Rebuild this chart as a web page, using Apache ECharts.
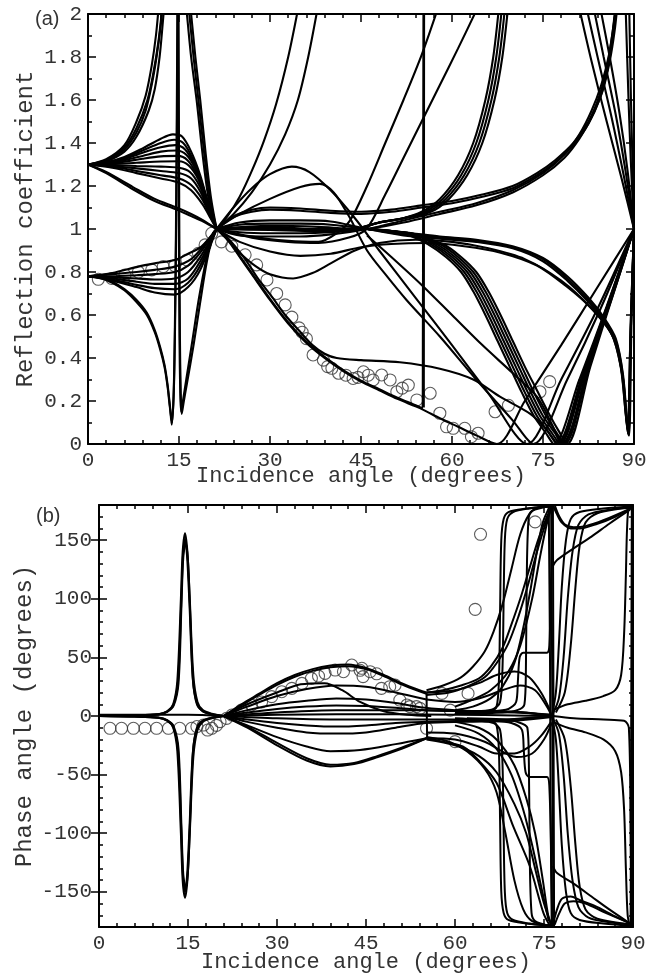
<!DOCTYPE html>
<html><head><meta charset="utf-8">
<script src="https://cdn.jsdelivr.net/npm/echarts@6/dist/echarts.min.js"></script>
<style>html,body{margin:0;padding:0;background:#fff}#c{width:659px;height:975px}</style>
</head><body><div id="c"></div><script>
// ---------- Panel (a): reflection coefficient ----------
const xTicks = [0, 15, 30, 45, 60, 75, 90];
const aYTicks = [0, 0.2, 0.4, 0.6, 0.8, 1, 1.2, 1.4, 1.6, 1.8, 2];
const bYTicks = [-150, -100, -50, 0, 50, 100, 150];

// lower family from 0.78
const aL1 = [[0,0.78],[4,0.795],[8.3,0.825],[11,0.84],[14.3,0.856],[16.5,0.885],[18.7,0.918],[21.2,1.0]];
const aL2 = [[0,0.78],[4,0.79],[8,0.8],[11,0.81],[14.3,0.825],[17,0.86],[19,0.92],[21.2,1.0]];
const aL3 = [[0,0.78],[4,0.78],[8,0.785],[11,0.79],[14.3,0.8],[16.5,0.83],[18.5,0.89],[21.2,1.0]];
const aL4 = [[0,0.78],[4,0.775],[8,0.77],[11,0.765],[14.3,0.77],[16.5,0.8],[18.5,0.87],[21.2,1.0]];
const aL5 = [[0,0.78],[4,0.77],[8,0.755],[11,0.745],[14.3,0.745],[16.5,0.77],[18.5,0.85],[21.2,1.0]];
const aL6 = [[0,0.78],[4,0.765],[8,0.74],[11,0.725],[14.3,0.72],[16.5,0.75],[18.5,0.83],[21.2,1.0]];
const aL7 = [[0,0.78],[4,0.76],[8,0.73],[11,0.705],[14.3,0.695],[16.5,0.73],[18.5,0.81],[21.2,1.0]];
// dips near 14-15
const aD1 = [[0,0.78],[2,0.775],[4,0.755],[6,0.72],[8,0.67],[9.7,0.61],[11,0.53],[11.9,0.45],[12.6,0.37],[13.1,0.28],[13.5,0.18],[13.8,0.09],[14.1,0.22],[14.3,0.5],[14.5,1.0],[14.65,1.6],[14.75,2.1]];
const aD2 = [[0,0.78],[2,0.772],[4,0.75],[6,0.715],[8,0.66],[9.7,0.6],[11,0.52],[11.9,0.44],[12.6,0.36],[13.1,0.27],[13.5,0.17],[13.85,0.1],[14.15,0.25],[14.35,0.55],[14.55,1.05],[14.7,1.6],[14.8,2.1]];
const aD3 = [[14.9,2.1],[14.98,1.5],[15.05,1.0],[15.15,0.5],[15.28,0.25],[15.45,0.14],[15.8,0.2],[16.3,0.28],[17.4,0.46],[18.5,0.66],[19.6,0.85],[20.7,0.98],[21.2,1.0]];
const aD4 = [[14.85,2.1],[14.92,1.5],[14.98,1.0],[15.08,0.5],[15.2,0.25],[15.35,0.15],[15.7,0.21],[16.2,0.3],[17.2,0.48],[18.3,0.68],[19.5,0.86],[20.6,0.98],[21.2,1.0]];
// upper family from 1.3: pole bundle
const aP1 = [[0,1.3],[3,1.32],[6,1.37],[8,1.45],[9.5,1.55],[10.5,1.67],[11.3,1.8],[12,1.95],[12.3,2.05]];
const aP2 = [[0,1.3],[3,1.32],[6,1.38],[8,1.47],[9.8,1.6],[10.8,1.73],[11.6,1.87],[12.2,2.02]];
const aP3 = [[0,1.3],[3,1.325],[6,1.39],[8,1.5],[9.5,1.62],[10.5,1.76],[11.2,1.9],[11.7,2.05]];
const aP4 = [[0,1.3],[3,1.315],[6,1.36],[8,1.43],[10,1.55],[11,1.65],[11.8,1.8],[12.3,1.95],[12.6,2.05]];
// steep descent from top to the crossing point
const aS1 = [[15.9,2.1],[16.3,2.0],[17,1.8],[17.9,1.6],[19,1.32],[20,1.12],[21.2,1.0]];
const aS2 = [[16.3,2.1],[16.7,2.0],[17.4,1.8],[18.2,1.6],[19.2,1.34],[20.1,1.14],[21.2,1.0]];
const aS3 = [[16.6,2.1],[17.0,2.0],[17.7,1.8],[18.5,1.6],[19.4,1.35],[20.3,1.14],[21.2,1.0]];
// bulges
const aG1 = [[0,1.3],[3,1.31],[6,1.335],[9,1.375],[12,1.42],[14,1.44],[15.5,1.43],[17,1.36],[18.5,1.25],[20,1.1],[21.2,1.0]];
const aG2 = [[0,1.3],[3,1.31],[6,1.33],[9,1.365],[12,1.4],[14.2,1.415],[15.7,1.4],[17.2,1.33],[18.7,1.22],[20,1.1],[21.2,1.0]];
const aG3 = [[0,1.3],[3,1.305],[6,1.325],[9,1.355],[12,1.38],[14.4,1.39],[16,1.37],[17.5,1.3],[19,1.19],[20.2,1.08],[21.2,1.0]];
const aG4 = [[0,1.3],[3,1.305],[6,1.32],[9,1.34],[12,1.36],[14.6,1.365],[16.2,1.345],[17.7,1.28],[19.2,1.17],[20.3,1.07],[21.2,1.0]];
const aG5 = [[0,1.3],[3,1.303],[6,1.313],[9,1.327],[12,1.338],[14.8,1.34],[16.4,1.32],[18,1.25],[19.4,1.15],[20.4,1.06],[21.2,1.0]];
const aG6 = [[0,1.3],[4,1.302],[8,1.308],[12,1.314],[15,1.315],[16.6,1.295],[18.2,1.23],[19.5,1.13],[20.5,1.05],[21.2,1.0]];
const aG7 = [[0,1.3],[4,1.297],[8,1.293],[12,1.29],[15,1.285],[16.8,1.265],[18.4,1.2],[19.7,1.11],[20.6,1.04],[21.2,1.0]];
const aG8 = [[0,1.3],[4,1.293],[8,1.282],[12,1.27],[15,1.26],[17,1.235],[18.6,1.17],[19.8,1.09],[21.2,1.0]];
const aG9 = [[0,1.3],[4,1.29],[8,1.27],[12,1.25],[15,1.235],[17,1.205],[18.8,1.14],[20,1.07],[21.2,1.0]];
const aG10 = [[0,1.3],[4,1.285],[8,1.26],[12,1.235],[15,1.215],[17,1.18],[19,1.11],[20.2,1.05],[21.2,1.0]];
const aR1 = [[0,1.3],[3,1.265],[7.4,1.195],[11,1.14],[14.6,1.1],[17,1.07],[19,1.04],[21.2,1.0]];
const aR2 = [[0,1.3],[3,1.26],[7.4,1.185],[11,1.13],[14.6,1.09],[17,1.06],[19,1.035],[21.2,1.0]];
// after the crossing point
const aC1 = [[21.2,1.0],[23,1.06],[25,1.15],[27,1.27],[29,1.41],[31,1.58],[33,1.8],[34.6,2.02]];
const aC2 = [[21.2,1.0],[24,1.07],[27,1.17],[30,1.3],[32.5,1.44],[34.6,1.6],[36.3,1.8],[37.8,2.02]];
const aC3 = [[21.2,1.0],[24,1.1],[27,1.19],[30,1.255],[33.6,1.29],[36.5,1.265],[40,1.18],[44,1.05],[48,0.9],[54,0.68],[60,0.46],[66,0.235],[72.4,0.0],[78,0.3],[84,0.63],[90,1.0]];
const aC4 = [[21.2,1.0],[25,1.07],[30,1.14],[35,1.195],[38.2,1.21],[40.5,1.17],[43,1.06],[46,0.9],[49,0.79],[52.5,0.67],[58,0.5],[64,0.3],[70,0.11],[73.4,0.0],[79,0.3],[84.5,0.63],[90,1.0]];
const aC5 = [[21.2,1.0],[23,0.95],[25,0.89],[27.5,0.83],[30,0.79],[33.8,0.77],[37,0.795],[40,0.84],[44,0.9],[48,0.935],[54,0.95],[60,0.94],[66,0.91],[72,0.86],[78,0.76],[83,0.63],[86.5,0.5],[88.2,0.3],[88.9,0.08],[89.5,0.6],[90,1.0]];
const aC6 = [[21.2,1.0],[25,0.94],[30,0.895],[35,0.875],[40,0.885],[45,0.915],[50,0.93],[56,0.935],[62,0.92],[68,0.89],[74,0.83],[79,0.73],[83,0.63],[86.2,0.52],[87.8,0.36],[88.6,0.15],[89,0.06],[89.5,0.55],[90,1.0]];
const aM1 = [[21.2,1.0],[25,1.03],[30,1.04],[35,1.04],[40,1.035],[46,1.0],[52,0.97],[58,0.955],[64,0.94],[70,0.91],[75,0.85],[79,0.76],[82.5,0.66],[85,0.57],[87,0.47],[88,0.33],[88.7,0.12],[89,0.05],[89.4,0.5],[90,1.0]];
const aM2 = [[21.2,1.0],[25,1.02],[30,1.025],[35,1.025],[40,1.02],[46,1.0],[52,0.975],[58,0.96],[64,0.945],[70,0.915],[75,0.86],[79,0.77],[82.5,0.67],[85,0.58],[87,0.48],[88.1,0.33],[88.8,0.1],[89.1,0.04],[89.5,0.55],[90,1.0]];
const aM3 = [[21.2,1.0],[25,1.0],[30,1.0],[35,1.0],[40,1.0],[46,1.0],[52,0.985],[58,0.965],[64,0.95],[70,0.92],[75,0.865],[79,0.78],[82.5,0.68],[85,0.59],[87,0.49],[88.2,0.32],[88.9,0.09],[89.2,0.04],[89.6,0.6],[90,1.0]];
const aM4 = [[21.2,1.0],[25,0.985],[30,0.98],[35,0.98],[40,0.985],[46,1.0],[52,1.03],[58,1.07],[64,1.11],[70,1.17],[75,1.25],[78.5,1.33],[81,1.42],[83,1.52],[84.8,1.64],[86,1.78],[86.8,1.92],[87.3,2.05]];
const aM5 = [[21.2,1.0],[25,0.97],[30,0.965],[35,0.965],[40,0.975],[46,1.0],[52,1.04],[58,1.08],[64,1.12],[70,1.18],[75,1.26],[78.5,1.345],[81,1.44],[83,1.55],[84.6,1.67],[85.8,1.8],[86.6,1.94],[87.1,2.05]];
const aU1 = [[21.2,1.0],[24,1.06],[27,1.09],[30,1.1],[35,1.095],[40,1.085],[45,1.08],[50,1.09],[55,1.11],[60,1.13],[65,1.16],[70,1.2],[74,1.26],[77,1.32],[80,1.4],[82.5,1.5],[84.3,1.62],[85.6,1.76],[86.4,1.9],[87,2.05]];
const aU2 = [[21.2,1.0],[24,1.055],[27,1.08],[30,1.09],[35,1.085],[40,1.075],[45,1.07],[50,1.08],[55,1.1],[60,1.12],[65,1.15],[70,1.19],[74,1.25],[77,1.31],[80,1.39],[82.5,1.49],[84.4,1.61],[85.7,1.75],[86.5,1.9],[87.1,2.05]];
const aB1 = [[21.2,1.0],[30,1.01],[38,1.0],[44,1.0],[48,1.03],[52,1.05],[55,1.08],[58,1.14],[61,1.25],[63.5,1.4],[65.5,1.6],[66.8,1.8],[67.7,2.02]];
const aB2 = [[21.2,1.0],[30,1.0],[38,0.99],[44,1.0],[48,1.03],[52,1.05],[55.5,1.08],[58.5,1.14],[61.5,1.25],[64,1.4],[66,1.6],[67.3,1.8],[68.2,2.02]];
const aB3 = [[21.2,1.0],[30,1.015],[38,1.01],[44,1.0],[48,1.03],[52,1.05],[56,1.08],[59,1.14],[62,1.25],[64.5,1.4],[66.5,1.6],[67.8,1.8],[68.7,2.02]];
const aB4 = [[21.2,1.0],[30,0.995],[38,0.99],[44,1.0],[48,1.03],[52,1.05],[56.5,1.08],[59.5,1.14],[62.5,1.25],[65,1.4],[67,1.6],[68.3,1.8],[69.2,2.02]];
const aE1 = [[21.2,1.0],[27,0.96],[33,0.94],[38,0.935],[43,0.96],[45.9,1.0],[49,1.16],[52,1.33],[55,1.5],[58,1.67],[61,1.84],[63.9,2.01]];
const aE2 = [[21.2,1.0],[27,0.965],[33,0.945],[38,0.94],[41,0.98],[43.2,1.04],[46,1.2],[49,1.4],[52,1.6],[55,1.81],[57.6,2.02]];
const aQ1 = [[21.2,1.0],[23,0.96],[25.9,0.86],[28,0.77],[30.3,0.685],[32.5,0.6],[34.7,0.53],[37,0.46],[39,0.42],[41,0.4],[45,0.39],[51.4,0.38],[58,0.35],[63.5,0.3],[67.9,0.22],[72.9,0.14],[75.5,0.07],[77.5,0.0],[82,0.35],[86,0.65],[90,1.0]];
const aK1 = [[21.2,1.0],[23,0.95],[25,0.87],[27,0.79],[30,0.67],[33,0.56],[36,0.47],[39,0.4],[42,0.34],[45,0.29],[48,0.25],[51,0.21],[54,0.175],[55.2,0.16],[58,0.12],[61,0.08],[64,0.04],[67.4,0.0],[72,0.2],[78,0.46],[84,0.73],[90,1.0]];
const aK2 = [[21.2,1.0],[23,0.955],[25,0.875],[27,0.795],[30,0.675],[33,0.565],[36,0.475],[39,0.405],[42,0.345],[45,0.295],[48,0.255],[51,0.215],[54,0.18],[55.15,0.165],[55.2,0.5],[55.25,1.2],[55.3,2.1]];
const aK3 = [[55.35,0.17],[55.37,1.0],[55.4,2.1]];
const aT1 = [[46,0.97],[50,0.87],[55,0.74],[60,0.6],[65,0.46],[70,0.33],[74,0.22],[76.5,0.09],[78,0.0],[84,0.5],[90,1.0]];
const aV1 = [[46,1.0],[50,0.99],[53,0.97],[56,0.93],[59,0.87],[61.5,0.8],[63.5,0.71],[65.5,0.6],[67.5,0.48],[69.5,0.36],[71.5,0.24],[73.5,0.13],[75.5,0.05],[76.8,0.0],[81,0.3],[85.5,0.64],[90,1.0]];
const aV2 = [[46,1.0],[50,0.99],[53,0.975],[56.5,0.93],[59.5,0.87],[62,0.8],[64,0.71],[66,0.6],[68,0.48],[70,0.36],[72,0.24],[74,0.13],[76,0.05],[77.3,0.0],[81.5,0.32],[85.8,0.66],[90,1.0]];
const aV3 = [[46,1.0],[50,0.99],[54,0.975],[57,0.93],[60,0.87],[62.5,0.8],[64.5,0.71],[66.5,0.6],[68.5,0.48],[70.5,0.36],[72.5,0.24],[74.5,0.13],[76.5,0.05],[77.8,0.0],[82,0.34],[86,0.67],[90,1.0]];
const aV4 = [[46,1.0],[50,0.99],[54,0.975],[57.5,0.93],[60.5,0.87],[63,0.8],[65,0.71],[67,0.6],[69,0.48],[71,0.36],[73,0.24],[75,0.13],[77,0.05],[78.3,0.0],[82.3,0.35],[86.2,0.68],[90,1.0]];
const aV5 = [[46,1.0],[50,0.99],[54,0.975],[58,0.93],[61,0.87],[63.5,0.8],[65.5,0.71],[67.5,0.6],[69.5,0.48],[71.5,0.36],[73.5,0.24],[75.5,0.13],[77.3,0.05],[78.6,0.0],[82.5,0.35],[86.3,0.68],[90,1.0]];
const aV6 = [[46,1.0],[50,0.99],[54,0.97],[58.5,0.93],[61.5,0.87],[64,0.8],[66,0.71],[68,0.6],[70,0.48],[72,0.36],[74,0.25],[76,0.14],[77.6,0.06],[79,0.0],[82.8,0.36],[86.5,0.69],[90,1.0]];
const aW1 = [[80.8,2.05],[83,1.78],[85.5,1.5],[88,1.23],[90,1.0]];
const aW2 = [[82,2.05],[84,1.8],[86.3,1.52],[88.3,1.25],[90,1.0]];
const aW3 = [[83.2,2.05],[85,1.8],[87,1.53],[88.6,1.27],[90,1.0]];
const aW4 = [[84.3,2.05],[86,1.8],[87.6,1.54],[88.9,1.28],[90,1.0]];
const aW5 = [[88.6,2.05],[89.1,1.6],[89.5,1.3],[90,1.0]];
const aW6 = [[89.2,2.05],[89.5,1.6],[89.8,1.25],[90,1.0]];
// measured points (circles)
const aObs = [[1.7,0.766],[3.9,0.77],[6.1,0.786],[8.3,0.80],[10.5,0.81],[12.4,0.825],[14.3,0.83],[16.3,0.856],[18.2,0.887],[19.3,0.926],[20.4,0.98],[22,0.94],[23.7,0.92],[25.9,0.88],[27.8,0.833],[29.5,0.763],[31.1,0.70],[32.5,0.647],[33.6,0.59],[34.8,0.54],[35.3,0.52],[36,0.49],[37.1,0.414],[38.8,0.39],[39.5,0.36],[40.2,0.352],[41.3,0.329],[42.5,0.32],[43.7,0.305],[44.5,0.31],[45.4,0.336],[46.2,0.32],[47,0.298],[48.4,0.321],[49.8,0.298],[50.9,0.243],[51.8,0.26],[52.8,0.274],[54.2,0.205],[56.4,0.236],[58,0.143],[59.1,0.08],[60.2,0.073],[62.1,0.073],[63.2,0.034],[64.3,0.05],[67.1,0.15],[69.3,0.18],[74.5,0.243],[76.1,0.29]];

// ---------- Panel (b): phase angle ----------
const bPk1 = [[0,0],[6,0.5],[10,1.5],[11.5,4],[12.5,10],[13.2,30],[13.8,100],[14.1,140],[14.5,156],[14.9,140],[15.3,100],[15.9,35],[16.6,12],[17.5,5],[19,2],[21,0]];
const bPk2 = [[0,0],[6,0.5],[10,1.5],[11.5,4],[12.5,9],[13.3,28],[13.85,95],[14.15,136],[14.5,151],[14.85,136],[15.25,95],[15.8,32],[16.5,11],[17.5,4],[19,1.5],[21,0]];
const bPk3 = [[0,0],[6,0.4],[10,1.3],[11.5,3.5],[12.6,9],[13.4,28],[13.9,95],[14.2,135],[14.6,148],[15.0,132],[15.35,90],[15.85,30],[16.5,10],[17.5,4],[19,1.5],[21,0]];
const bDp1 = [[0,0],[6,-0.5],[10,-1.5],[11.5,-4],[12.5,-10],[13.2,-30],[13.8,-100],[14.1,-140],[14.5,-155],[14.9,-140],[15.3,-100],[15.9,-35],[16.6,-12],[17.5,-5],[19,-2],[21,0]];
const bDp2 = [[0,0],[6,-0.5],[10,-1.5],[11.5,-4],[12.5,-9],[13.3,-28],[13.85,-95],[14.15,-136],[14.5,-150],[14.85,-136],[15.25,-95],[15.8,-32],[16.5,-11],[17.5,-4],[19,-1.5],[21,0]];
const bDp3 = [[0,0],[6,-0.4],[10,-1.3],[11.5,-3.5],[12.6,-9],[13.4,-28],[13.9,-95],[14.2,-135],[14.6,-147],[15.0,-132],[15.35,-90],[15.85,-30],[16.5,-10],[17.5,-4],[19,-1.5],[21,0]];
const bA1 = [[21,0],[24,10],[27,19],[30,28],[33,35],[36,40],[39,43],[42,44],[45,41],[48,35],[51,28],[54,22],[55.2,20]];
const bA2 = [[21,0],[24,9],[27,18],[30,26.5],[33,33.5],[36,38.5],[39,41.5],[42,42.5],[45,40],[48,34],[51,27],[54,21],[55.2,19]];
const bA3 = [[21,0],[25,10],[30,20],[34,27],[38,28],[41,22],[44,12],[48,4],[52,1],[56,0]];
const bA4 = [[21,0],[25,8],[30,17],[35,23],[40,26],[45,25],[50,20],[55.2,14]];
const bA5 = [[21,0],[25,5],[30,10],[35,13],[40,15],[45,14],[50,11],[55,7],[60,5],[66,4],[72,3],[76,0]];
const bA6 = [[21,0],[25,3],[30,6],[35,8],[40,9],[45,8.5],[50,7],[55,5],[62,4],[70,3],[76,1]];
const bN1 = [[21,0],[25,-10],[30,-25],[35,-38],[39,-43],[43,-41],[47,-35],[51,-28],[55.2,-19]];
const bN2 = [[21,0],[25,-9],[30,-23],[35,-36],[39,-41.5],[43,-40],[47,-34],[51,-27],[55.2,-19]];
const bN3 = [[21,0],[25,-8],[30,-18],[35,-26],[39,-30],[44,-29],[50,-24],[55.2,-19]];
const bN4 = [[21,0],[25,-5],[30,-10],[35,-14],[40,-15],[45,-14],[50,-10],[55,-6],[62,-5],[70,-4],[76,-1]];
const bN5 = [[21,0],[25,-3],[30,-6],[35,-8],[40,-9],[45,-8],[50,-6],[55,-5],[62,-4],[70,-3],[76,0]];
const bF1 = [[21,0],[30,3],[40,5],[50,5],[60,4.5],[70,3.5],[76,1]];
const bF2 = [[21,0],[30,-2],[40,-3],[50,-3],[60,-3],[70,-2.5],[76,-0.5]];
const bF3 = [[21,0],[30,1],[40,1.5],[50,1.5],[60,1],[70,0.5],[76,0]];
const bZ0 = [[0,1],[5,1],[10,1],[15,1],[21,0]];
const bX55 = [[55.2,20],[55.25,0],[55.3,-19]];
const bR1 = [[55.2,20],[58,22],[61,26],[64,32],[66,42],[68,58],[69.5,78],[71,100],[72.5,125],[74,150],[75.5,170],[76.5,180]];
const bR2 = [[55.2,18],[59,20],[62,25],[65,33],[67,45],[69,62],[70.7,85],[72.2,110],[73.7,138],[75,160],[76.3,178]];
const bR3 = [[55.2,22],[58,26],[61,33],[63,42],[65,55],[66.5,72],[68,95],[69.5,125],[71,155],[72.5,172],[74,178],[76.5,180]];
const bR4 = [[60,5],[63,8],[66,15],[68,25],[70,45],[71.5,75],[72.8,110],[73.8,140],[74.8,165],[76,179]];
const bR5 = [[60,8],[63,14],[66,22],[69,38],[71,60],[73,100],[74.3,135],[75.3,160],[76.2,178]];
const bD1 = [[55.2,-19],[58,-22],[61.3,-26],[64,-38],[67,-57],[69.8,-94],[72.6,-128],[74.9,-168],[76,-179]];
const bD2 = [[55.2,-20],[60,-25],[64,-34],[67,-48],[70,-75],[72,-100],[73.5,-130],[75,-160],[76.3,-179]];
const bD3 = [[55.2,-18],[59,-22],[62,-30],[65,-45],[67,-65],[68.5,-100],[70,-140],[71.5,-165],[73,-175],[76,-179]];
const bD4 = [[60,-5],[64,-10],[67,-20],[70,-42],[72,-70],[73.5,-100],[74.8,-140],[75.7,-170],[76.3,-180]];
const bD5 = [[60,-8],[64,-15],[67,-28],[69.5,-50],[71.5,-80],[73,-110],[74.5,-145],[75.8,-175]];
const bH1 = [[55.2,20],[60,22],[64,28],[67,35],[70,38],[72.5,33],[74.5,20],[76,5]];
const bH2 = [[55.2,14],[60,12],[64,15],[68,22],[71,26],[73.5,22],[75.5,8],[76.3,0]];
const bH3 = [[55.2,-19],[60,-20],[64,-26],[67,-32],[70,-32],[72.6,-26],[74.5,-17],[76.2,-5]];
const bH4 = [[55.2,-14],[60,-15],[65,-22],[70.4,-35],[73,-32],[75,-20],[76.3,-6]];
const bQ1 = [[60,2],[64,3],[66,4],[67,8],[67.4,30],[67.6,90],[67.8,150],[68.2,168],[69,174],[72,177],[76,179],[76.5,180]];
const bQ2 = [[60,3],[64,4],[66.5,6],[67.6,12],[68,40],[68.2,100],[68.4,150],[68.8,168],[69.8,174],[72.5,177],[76.2,179]];
const bQ3 = [[60,-2],[64,-3],[66,-4],[67,-8],[67.4,-30],[67.6,-90],[67.8,-150],[68.2,-168],[69,-174],[72,-177],[76,-179],[76.5,-180]];
const bQ4 = [[60,-3],[64,-4],[66.5,-6],[67.6,-12],[68,-40],[68.2,-100],[68.4,-150],[68.8,-168],[69.8,-174],[72.5,-177],[76.2,-179]];
const bM1 = [[60,3],[66,4],[69,6],[70.3,12],[70.6,30],[70.9,50],[71.5,54],[75.5,54],[75.9,60],[76.2,120],[76.4,180]];
const bM2 = [[60,-3],[66,-4],[69.5,-6],[71.3,-12],[71.6,-30],[71.9,-48],[72.5,-52],[75.5,-52],[75.9,-60],[76.2,-120],[76.4,-180]];
const bJ1 = [[62,2],[68,3],[70.5,5],[71.7,10],[71.95,40],[72.1,120],[72.4,168],[73,175],[76,179]];
const bJ2 = [[62,-2],[68,-3],[70.5,-5],[72.2,-10],[72.45,-40],[72.6,-120],[72.9,-168],[73.5,-175],[76,-179]];
const bP1 = [[75.8,180],[76.0,60],[76.05,0],[76.1,-60],[76.3,-180]];
const bP2 = [[76.2,180],[76.35,60],[76.4,0],[76.45,-60],[76.6,-180]];
const bP3 = [[76.5,180],[76.6,0],[76.7,-180]];
const bT1 = [[76.5,180],[77.2,172],[78,165],[79.5,160],[81,160],[84,164],[87,170],[90,178]];
const bT2 = [[76.8,180],[77.6,170],[78.6,163],[80,161],[82,162],[85,167],[90,178]];
const bL1 = [[76.5,128],[77.2,133],[80,143],[83,153],[86,164],[89.5,176]];
const bL2 = [[76.5,-128],[77.2,-134],[80,-143],[83,-154],[86,-165],[89.5,-177]];
const bU1 = [[76.3,0],[77,20],[77.5,60],[78,110],[78.7,150],[79.5,168],[81,174],[85,177],[90,179]];
const bU2 = [[76.5,2],[77.5,15],[78.3,50],[79,100],[79.8,140],[80.8,163],[82.5,172],[86,176],[90,178]];
const bU3 = [[77,3],[78.5,20],[79.5,60],[80.3,110],[81,145],[82,165],[84,173],[90,178]];
const bW1 = [[76.3,0],[77,-20],[77.5,-60],[78,-110],[78.7,-150],[79.5,-168],[81,-174],[85,-177],[90,-179]];
const bW2 = [[76.5,-2],[77.5,-15],[78.3,-50],[79,-100],[79.8,-140],[80.8,-163],[82.5,-172],[86,-176],[90,-178]];
const bW3 = [[77,-3],[78.5,-20],[79.5,-60],[80.3,-110],[81,-145],[82,-165],[84,-173],[90,-178]];
const bV1 = [[76.5,5],[79,10],[82,13],[85,17],[87,22],[88,35],[88.5,70],[88.8,120],[89,160],[89.3,178],[90,180]];
const bV2 = [[76.5,-5],[79,-10],[82,-14],[85,-20],[87,-30],[88,-48],[88.5,-80],[88.8,-130],[89.1,-170],[89.5,-180]];
const bV3 = [[76.5,0],[80,-2],[85,-3],[88.5,-4],[89.3,-10],[89.6,-100],[89.8,-180]];
const bB1 = [[76.5,-178],[77.2,-165],[78,-156],[79.5,-154],[81,-157],[84,-163],[87,-171],[90,-178]];
const bB2 = [[76.8,-178],[77.6,-168],[78.5,-160],[80,-158],[82,-160],[85,-167],[90,-178]];
const bE1 = [[89.6,-180],[89.7,0],[89.8,180]];
const bE2 = [[89.85,-180],[89.9,0],[89.95,180]];
const bObs = [[1.85,-10.5],[3.8,-10.5],[5.8,-10.5],[7.75,-10.5],[9.7,-10.5],[11.7,-10.5],[13.6,-10.5],[15.6,-10.5],[16.5,-9],[17.6,-7.7],[18.3,-12],[19,-10.5],[19.8,-8],[20.4,-4.8],[21.5,-2],[22.4,0.8],[24,5],[25.7,9.4],[27.4,12],[29.1,16.5],[30.8,20.7],[32.5,23.6],[34.2,27.8],[35.8,32.1],[37,34],[38.1,36.4],[39.8,39.2],[41.2,37.8],[42.6,43.5],[44,39],[44.3,40.7],[44.5,33.6],[45.7,37.8],[46.8,36],[47.6,23.6],[49,25],[49.9,26.4],[50.7,13.6],[51.9,9.4],[52.4,8],[53.5,8],[54.1,6.5],[55.2,-10.5],[57.8,19.3],[59.2,5],[60,-21.9],[62.2,19.3],[63.4,91],[64.3,155],[73.5,165.6]];

const curvesA = [aL1,aL2,aL3,aL4,aL5,aL6,aL7,aD1,aD2,aD3,aD4,aP1,aP2,aP3,aP4,aS1,aS2,aS3,aG1,aG2,aG3,aG4,aG5,aG6,aG7,aG8,aG9,aG10,aR1,aR2,aC1,aC2,aC3,aC4,aC5,aC6,aM1,aM2,aM3,aM4,aM5,aU1,aU2,aB1,aB2,aB3,aB4,aE1,aE2,aQ1,aK1,aK2,aK3,aT1,aV1,aV2,aV3,aV4,aV5,aV6,aW1,aW2,aW3,aW4,aW5,aW6];
const curvesB = [bPk1,bPk2,bPk3,bDp1,bDp2,bDp3,bA1,bA2,bA3,bA4,bA5,bA6,bN1,bN2,bN3,bN4,bN5,bF1,bF2,bF3,bZ0,bX55,bR1,bR2,bR3,bR4,bR5,bD1,bD2,bD3,bD4,bD5,bH1,bH2,bH3,bH4,bQ1,bQ2,bQ3,bQ4,bM1,bM2,bJ1,bJ2,bP1,bP2,bP3,bT1,bT2,bL1,bL2,bU1,bU2,bU3,bW1,bW2,bW3,bV1,bV2,bV3,bB1,bB2,bE1,bE2];

const MONO = 'Liberation Mono';
const TXT = '#333';
const tickStyle = {color:'#000', width:1.5};
function xAx(grid, pos, show, name, gap){
  return {type:'value', gridIndex:grid, position:pos, min:0, max:90, interval:15,
    axisLine:{show:true, onZero:false, lineStyle:{color:'#000', width:2}},
    axisTick:{show:true, inside:true, length:8, lineStyle:tickStyle},
    minorTick:{show:true, splitNumber:5, length:4, lineStyle:tickStyle},
    splitLine:{show:false}, minorSplitLine:{show:false},
    axisLabel:{show:show, fontFamily:MONO, fontSize:21, color:TXT, margin:6, customValues: xTicks},
    name:name||'', nameLocation:'middle', nameGap:gap||0, nameMoveOverlap:false,
    nameTextStyle:{fontFamily:MONO, fontSize:22, color:TXT}};
}
function yA(pos, show, name){
  return {type:'value', gridIndex:0, position:pos, min:0, max:2, interval:0.2,
    axisLine:{show:true, onZero:false, lineStyle:{color:'#000', width:2}},
    axisTick:{show:true, inside:true, length:8, lineStyle:tickStyle},
    minorTick:{show:true, splitNumber:2, length:4, lineStyle:tickStyle},
    splitLine:{show:false}, minorSplitLine:{show:false},
    axisLabel:{show:show, fontFamily:MONO, fontSize:21, color:TXT, margin:6, customValues:aYTicks},
    name:name||'', nameLocation:'middle', nameGap:50, nameMoveOverlap:false,
    nameTextStyle:{fontFamily:MONO, fontSize:24, color:TXT}};
}
function yB(pos, show, name){
  return {type:'value', gridIndex:1, position:pos, min:-180, max:180, interval:10,
    axisLine:{show:true, onZero:false, lineStyle:{color:'#000', width:2}},
    axisTick:{show:true, inside:true, length:4, lineStyle:tickStyle},
    splitLine:{show:false},
    axisLabel:{show:show, fontFamily:MONO, fontSize:21, color:TXT, margin:7, customValues:bYTicks},
    name:name||'', nameLocation:'middle', nameGap:62, nameMoveOverlap:false,
    nameTextStyle:{fontFamily:MONO, fontSize:24, color:TXT}};
}
function yBMajor(pos){
  return {type:'value', gridIndex:1, position:pos, min:-180, max:180, interval:10,
    axisLine:{show:false}, splitLine:{show:false}, axisLabel:{show:false},
    axisTick:{show:true, inside:true, length:8, lineStyle:tickStyle, customValues:bYTicks}};
}

const series = [];
curvesA.forEach(d => series.push({type:'line', xAxisIndex:0, yAxisIndex:0, data:d, showSymbol:false, smooth:0.3, silent:true, lineStyle:{color:'#000', width:2.1}}));
curvesB.forEach(d => series.push({type:'line', xAxisIndex:2, yAxisIndex:2, data:d, showSymbol:false, smooth:0.3, silent:true, lineStyle:{color:'#000', width:2.0}}));
series.push({type:'scatter', xAxisIndex:0, yAxisIndex:0, data:aObs, symbol:'circle', symbolSize:12, itemStyle:{color:'rgba(0,0,0,0)', borderColor:'#333', borderWidth:1.1}, silent:true});
series.push({type:'scatter', xAxisIndex:2, yAxisIndex:2, data:bObs, symbol:'circle', symbolSize:12, itemStyle:{color:'rgba(0,0,0,0)', borderColor:'#333', borderWidth:1.1}, silent:true});

const chart = echarts.init(document.getElementById('c'));
chart.setOption({
  animation:false,
  backgroundColor:'#fff',
  title:[
    {text:'(a)', left:30, top:4, textStyle:{fontFamily:'Liberation Sans', fontSize:20, fontWeight:'normal', color:TXT}},
    {text:'(b)', left:31, top:501, textStyle:{fontFamily:'Liberation Sans', fontSize:20, fontWeight:'normal', color:TXT}}
  ],
  grid:[
    {left:88, right:25, top:14, bottom:531},
    {left:99, right:26, top:505, bottom:48}
  ],
  xAxis:[
    xAx(0,'bottom',true,'Incidence angle (degrees)',21),
    xAx(0,'top',false),
    xAx(1,'bottom',true,'Incidence angle (degrees)',24),
    xAx(1,'top',false)
  ],
  yAxis:[
    yA('left',true,'Reflection coefficient'),
    yA('right',false),
    yB('left',true,'Phase angle (degrees)'),
    yB('right',false),
    yBMajor('left'),
    yBMajor('right')
  ],
  series:series
});
</script></body></html>
